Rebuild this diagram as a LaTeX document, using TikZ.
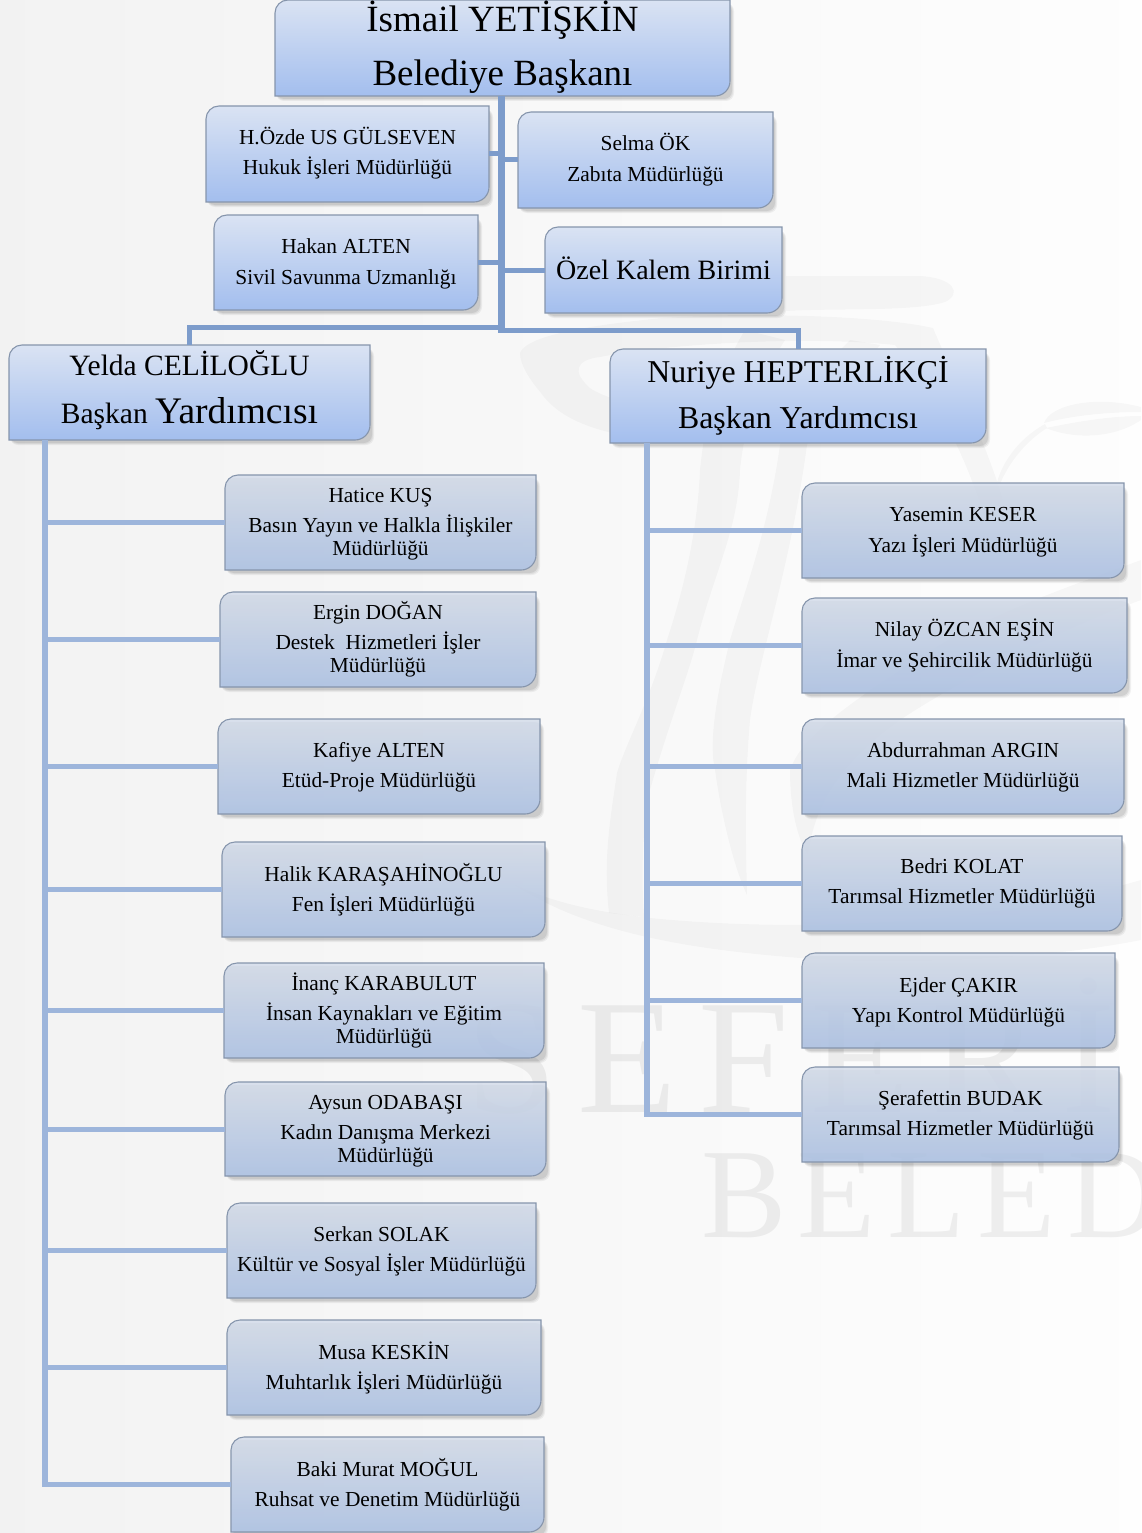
\documentclass[tikz,border=0pt]{standalone}
\usepackage{fontspec}
\setmainfont{Liberation Serif}
\newfontfamily\wmone[LetterSpace=13]{Liberation Serif}
\newfontfamily\wmtwo[LetterSpace=9]{Liberation Serif}
\usetikzlibrary{calc}
\definecolor{topA}{HTML}{DAE3F3}
\definecolor{botA}{HTML}{A3BEEE}
\definecolor{topB}{HTML}{D6DEEB}
\definecolor{botB}{HTML}{AFC4E6}
\definecolor{edgeC}{HTML}{8695AC}
\definecolor{linkA}{HTML}{7D9CCB}
\definecolor{linkB}{HTML}{9DB5DB}
\tikzset{
  boxA/.style={top color=topA,bottom color=botA},
  boxB/.style={top color=topB,bottom color=botB,fill opacity=.88},
  linkup/.style={draw=linkA,line width=5pt,line join=miter},
  linkdown/.style={draw=linkB,line width=5.5pt,line join=miter},
  swoosh/.style={fill=black,fill opacity=.028,draw=none},
  wmtext/.style={text=black,text opacity=.06,inner sep=0pt,anchor=base west},
}
\def\tdy{0}
% name,x1,y1,x2,y2,style,size,leading,text
\newcommand\orgbox[9]{%
  \foreach \d/\o in {5/.05,4/.06,3/.08}{
    \fill[black,opacity=\o,rounded corners=8pt] ({#2+1},{#3+3}) rectangle ({#4+\d-1},{#5+\d});
  }
  \path[#6,draw=none] (#2,#5) [rounded corners=13pt] -- (#2,#3) [sharp corners] -- (#4,#3) [rounded corners=15pt] -- (#4,#5) [sharp corners] -- cycle;
  \draw[edgeC,line width=1.1pt] (#2,#5) [rounded corners=13pt] -- (#2,#3) [sharp corners] -- (#4,#3) [rounded corners=15pt] -- (#4,#5) [sharp corners] -- cycle;
  \node[inner sep=0pt,minimum width={#4-#2},minimum height={#5-#3}] (#1) at ({(#2+#4)/2},{(#3+#5)/2}) {};
  \node[inner sep=0pt,align=center,font=\fontsize{#7}{#8}\selectfont] (#1-text) at ({(#2+#4)/2},{(#3+#5)/2+\tdy}) {#9};
  \gdef\tdy{0}%
}
\begin{document}
\begin{tikzpicture}[x=1pt,y=-1pt]
\useasboundingbox (0,0) rectangle (1141,1533);
\shade[left color=black!5,right color=black!0.5] (0,0) rectangle (1141,1533);
\begin{scope}
\clip (0,0) rectangle (1141,1533);
% watermark emblem: ring band running over into the right strand
\path[swoosh,even odd rule] (520,353) .. controls (525,340) and (560,328) .. (663,318)
  .. controls (760,312) and (880,316) .. (933,328)
  .. controls (955,380) and (985,440) .. (1003,500) -- (985,520)
  .. controls (965,450) and (930,390) .. (895,345)
  .. controls (800,335) and (660,345) .. (600,357)
  .. controls (575,360) and (572,372) .. (590,388)
  .. controls (600,396) and (640,408) .. (680,420) -- (660,440)
  .. controls (600,435) and (560,420) .. (541,393)
  .. controls (530,380) and (520,365) .. (520,353) -- cycle;
% upper tip of the band
\path[swoosh] (786,311) .. controls (830,308) and (915,312) .. (945,302) .. controls (962,294) and (955,278) .. (920,276) -- (786,276) -- cycle;
% strands
\path[swoosh] (745,330) .. controls (715,380) and (705,420) .. (700,470) .. controls (697,540) and (680,600) .. (667,640) .. controls (650,700) and (625,745) .. (617,773) .. controls (610,820) and (603,860) .. (609,913)
  -- (644,917) .. controls (640,860) and (645,810) .. (650,790) .. controls (670,720) and (690,670) .. (697,640) .. controls (715,570) and (738,530) .. (740,470) .. controls (745,420) and (760,380) .. (785,340) -- cycle;
\path[swoosh] (850,340) .. controls (820,370) and (790,410) .. (780,445) .. controls (768,530) and (745,590) .. (730,640) .. controls (718,690) and (708,740) .. (715,770) .. controls (722,820) and (735,870) .. (747,895)
  .. controls (746,850) and (744,790) .. (750,720) .. controls (758,660) and (790,570) .. (807,445) .. controls (825,400) and (860,370) .. (880,345) -- cycle;
\path[swoosh] (1141,560) .. controls (1060,590) and (970,620) .. (900,670) .. controls (840,710) and (800,740) .. (790,770) .. controls (790,810) and (798,840) .. (808,855)
  .. controls (815,800) and (845,760) .. (900,720) .. controls (960,680) and (1060,630) .. (1141,600) -- cycle;
% stem and leaves
\path[swoosh] (1045,424) .. controls (1025,435) and (1005,455) .. (997,482) -- (1000,484) .. controls (1010,460) and (1028,440) .. (1047,428) -- cycle;
\path[swoosh] (1044,423) .. controls (1050,405) and (1095,395) .. (1141,407) -- (1141,412) .. controls (1110,412) and (1075,415) .. (1044,423) -- cycle;
\path[swoosh] (1046,428) .. controls (1075,422) and (1110,416) .. (1141,416) -- (1141,420) .. controls (1115,438) and (1075,440) .. (1046,428) -- cycle;
% lower sweep
\path[swoosh] (515,885) .. controls (560,905) and (600,912) .. (650,918) .. controls (750,928) and (950,935) .. (1141,880)
  -- (1141,940) .. controls (1040,960) and (900,965) .. (800,958) .. controls (700,950) and (590,935) .. (515,885) -- cycle;
\node[wmtext,font=\wmone\fontsize{163}{163}\selectfont] (wmfirst) at (466,1112) {SEFERİ};
\node[wmtext,font=\wmtwo\fontsize{128}{128}\selectfont] (wmsecond) at (701,1237) {BELED};
\end{scope}
% named junctions
\coordinate (jtop) at (501.5,96);
\coordinate (jend) at (501.5,330);
\coordinate (jfoot) at (501.5,332.5);
\coordinate (jleft) at (501.5,327);
\coordinate (trunkL) at (45,440);
\coordinate (trunkR) at (647,443);
% boxes
\def\tdy{-1}\orgbox{mayor}{275}{0}{730}{96}{boxA}{37}{54}{İsmail YETİŞKİN\\Belediye Başkanı}
\def\tdy{-1}\orgbox{hukuk}{206}{106}{489}{202}{boxA}{21.4}{30}{H.Özde US GÜLSEVEN\\Hukuk İşleri Müdürlüğü}
\orgbox{zabita}{518}{112}{773}{208}{boxA}{21.4}{31}{Selma ÖK\\Zabıta Müdürlüğü}
\def\tdy{1}\orgbox{sivil}{214}{215}{478}{310}{boxA}{21.4}{31}{Hakan ALTEN\\Sivil Savunma Uzmanlığı}
\def\tdy{-1.5}\orgbox{ozel}{545}{227}{782}{313}{boxA}{28}{36}{Özel Kalem Birimi}
\def\tdy{-2}\orgbox{yelda}{9}{345}{370}{440}{boxA}{29.5}{48}{Yelda CELİLOĞLU\\Başkan {\fontsize{37.5}{48}\selectfont Yardımcısı}}
\orgbox{nuriye}{610}{349}{986}{443}{boxA}{31.8}{46}{Nuriye HEPTERLİKÇİ\\Başkan Yardımcısı}
\def\tdy{2}\orgbox{hatice}{225}{475}{536}{570}{boxB}{21.4}{30}{Hatice KUŞ\\Basın Yayın ve Halkla İlişkiler\\[-7pt]Müdürlüğü}
\orgbox{ergin}{220}{592}{536}{687}{boxB}{21.4}{30}{Ergin DOĞAN\\Destek\ \ Hizmetleri İşler\\[-7pt]Müdürlüğü}
\def\tdy{1}\orgbox{kafiye}{218}{719}{540}{814}{boxB}{21.4}{30}{Kafiye ALTEN\\Etüd-Proje Müdürlüğü}
\orgbox{halik}{222}{842}{545}{937}{boxB}{21.4}{30}{Halik KARAŞAHİNOĞLU\\Fen İşleri Müdürlüğü}
\orgbox{inanc}{224}{963}{544}{1058}{boxB}{21.4}{30}{İnanç KARABULUT\\İnsan Kaynakları ve Eğitim\\[-7pt]Müdürlüğü}
\def\tdy{2}\orgbox{aysun}{225}{1082}{546}{1176}{boxB}{21.4}{30}{Aysun ODABAŞI\\Kadın Danışma Merkezi\\[-7pt]Müdürlüğü}
\def\tdy{1}\orgbox{serkan}{227}{1203}{536}{1298}{boxB}{21.4}{30}{Serkan SOLAK\\Kültür ve Sosyal İşler Müdürlüğü}
\orgbox{musa}{227}{1320}{541}{1415}{boxB}{21.4}{30}{Musa KESKİN\\Muhtarlık İşleri Müdürlüğü}
\orgbox{baki}{231}{1437}{544}{1532}{boxB}{21.4}{30}{Baki Murat MOĞUL\\Ruhsat ve Denetim Müdürlüğü}
\def\tdy{2}\orgbox{yasemin}{802}{483}{1124}{578}{boxB}{21.4}{31}{Yasemin KESER\\Yazı İşleri Müdürlüğü}
\orgbox{nilay}{802}{598}{1127}{693}{boxB}{21.4}{31}{Nilay ÖZCAN EŞİN\\İmar ve Şehircilik Müdürlüğü}
\def\tdy{1}\orgbox{abdur}{802}{719}{1124}{814}{boxB}{21.4}{30}{Abdurrahman ARGIN\\Mali Hizmetler Müdürlüğü}
\orgbox{bedri}{802}{836}{1122}{931}{boxB}{21.4}{30}{Bedri KOLAT\\Tarımsal Hizmetler Müdürlüğü}
\def\tdy{2}\orgbox{ejder}{802}{953}{1115}{1048}{boxB}{21.4}{30}{Ejder ÇAKIR\\Yapı Kontrol Müdürlüğü}
\def\tdy{1}\orgbox{serafettin}{802}{1067}{1119}{1162}{boxB}{21.4}{30}{Şerafettin BUDAK\\Tarımsal Hizmetler Müdürlüğü}
% connectors: top
\draw[linkup,line width=6.5pt] (mayor.south -| jtop) -- (jfoot);
\draw[linkup] (hukuk.east) -- (hukuk.east -| jtop);
\draw[linkup] (zabita.west) -- (zabita.west -| jtop);
\draw[linkup] (sivil.east) -- (sivil.east -| jtop);
\draw[linkup] (ozel.west) -- (ozel.west -| jtop);
\draw[linkup] (jleft) -- (jleft -| yelda.north) -- (yelda.north);
\draw[linkup] (jend) -- (jend -| nuriye.north) -- (nuriye.north);
% connectors: left
\draw[linkdown] (trunkL) -- (trunkL |- baki.west) -- (baki.west);
\foreach \n in {hatice,ergin,kafiye,halik,inanc,aysun,serkan,musa}{
  \draw[linkdown,line width=5pt] (\n.west) -- (\n.west -| trunkL);
}
% connectors: right
\draw[linkdown] (trunkR) -- (trunkR |- serafettin.west) -- (serafettin.west);
\foreach \n in {yasemin,nilay,abdur,bedri,ejder}{
  \draw[linkdown,line width=5pt] (\n.west) -- (\n.west -| trunkR);
}
\end{tikzpicture}
\end{document}
